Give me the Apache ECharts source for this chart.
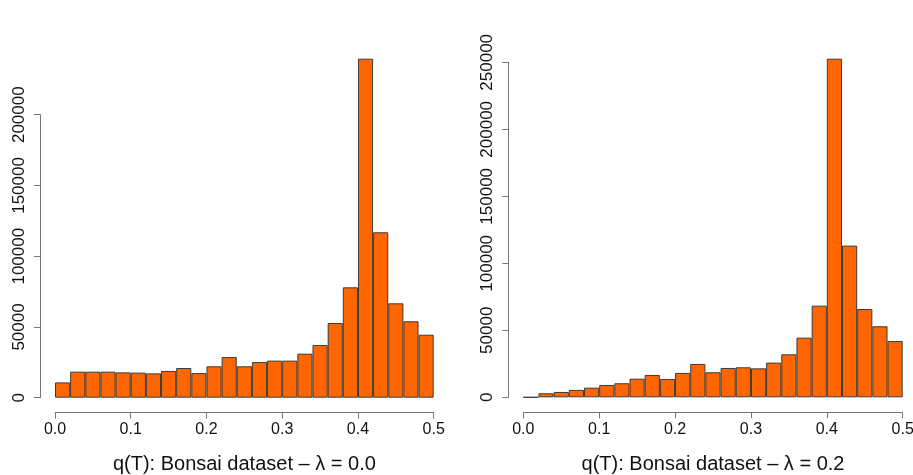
<!DOCTYPE html>
<html>
<head>
<meta charset="utf-8">
<script src="https://cdn.jsdelivr.net/npm/echarts@6/dist/echarts.min.js"></script>
<style>html,body{margin:0;padding:0;background:#fff}#c{width:913px;height:475px}</style>
</head>
<body>
<div id="c"></div>
<script>
// Histogram bins (width 0.02 from 0.0 to 0.5)
const bins = ["0.00","0.02","0.04","0.06","0.08","0.10","0.12","0.14","0.16","0.18","0.20","0.22","0.24","0.26","0.28","0.30","0.32","0.34","0.36","0.38","0.40","0.42","0.44","0.46","0.48"];
// Counts, lambda = 0.0
const countsL0 = [10800,18400,18400,18400,17900,17700,17200,18900,21000,17400,22200,28700,22200,25200,26200,26200,31100,37200,52800,78000,239600,116900,66700,54000,44500];
// Counts, lambda = 0.2
const countsL2 = [0,3000,4000,5500,7200,9200,10500,13900,16700,13700,18200,24900,18700,21900,22400,21600,25900,32100,44500,68400,252700,113200,65900,53000,42000];
const xTicks = [0.0,0.1,0.2,0.3,0.4,0.5];
const titleL0 = "q(T): Bonsai dataset \u2013 \u03bb = 0.0";
const titleL2 = "q(T): Bonsai dataset \u2013 \u03bb = 0.2";
const yMaxTickL0 = 200000;
const yMaxTickL2 = 250000;

const FONT = "'Liberation Sans', Arial, sans-serif";
const AX = '#777';
const TXT = '#111';

function hiddenAxis(extra){ return Object.assign({show:false}, extra); }

const chart = echarts.init(document.getElementById('c'), null, {renderer:'canvas'});

const grids = [
  {left:55, right:479.3, top:43.95, bottom:77.3, outerBoundsMode:'none', containLabel:false},   // 0 bars L0
  {left:55, right:479.3, top:114.7, bottom:77.3, outerBoundsMode:'none', containLabel:false},   // 1 y-axis L0
  {left:523.3, right:10.3, top:22.1, bottom:77.7, outerBoundsMode:'none', containLabel:false},  // 2 bars L2
  {left:523.3, right:10.3, top:62.3, bottom:77.7, outerBoundsMode:'none', containLabel:false}   // 3 y-axis L2
];

function valueXAxis(gi, name){
  return {
    type:'value', gridIndex:gi, min:xTicks[0], max:xTicks[xTicks.length-1], interval:0.1,
    position:'bottom', offset:15,
    axisLine:{show:true, onZero:false, lineStyle:{color:AX, width:1}},
    axisTick:{show:true, length:6, lineStyle:{color:AX}},
    axisLabel:{show:true, color:TXT, fontSize:16, fontFamily:FONT, margin:9,
      formatter:v=>v.toFixed(1)},
    splitLine:{show:false},
    name:name, nameLocation:'middle', nameGap:42,
    nameTextStyle:{color:TXT, fontSize:20, fontFamily:FONT}
  };
}
function visibleYAxis(gi, maxTick, off){
  return {
    type:'value', gridIndex:gi, min:0, max:maxTick, interval:50000,
    position:'left', offset:off,
    axisLine:{show:true, onZero:false, lineStyle:{color:AX, width:1}},
    axisTick:{show:true, length:6, lineStyle:{color:AX}},
    axisLabel:{show:true, rotate:90, color:TXT, fontSize:17, fontFamily:FONT, margin:12,
      formatter:v=>String(v)},
    splitLine:{show:false}
  };
}

const option = {
  backgroundColor:'#fff',
  animation:false,
  grid: grids,
  xAxis: [
    {type:'category', gridIndex:0, data:bins, show:false, boundaryGap:true},
    valueXAxis(0, titleL0),
    hiddenAxis({type:'value', gridIndex:1, min:0, max:1}),
    {type:'category', gridIndex:2, data:bins, show:false, boundaryGap:true},
    valueXAxis(2, titleL2),
    hiddenAxis({type:'value', gridIndex:3, min:0, max:1})
  ],
  yAxis: [
    hiddenAxis({type:'value', gridIndex:0, min:0, max:250000}),
    visibleYAxis(1, yMaxTickL0, 15),
    hiddenAxis({type:'value', gridIndex:2, min:0, max:280000}),
    visibleYAxis(3, yMaxTickL2, 15)
  ],
  series: [
    {type:'bar', xAxisIndex:0, yAxisIndex:0, data:countsL0, barCategoryGap:'0%',
      itemStyle:{color:'#ff6600', borderColor:'#3b3b3b', borderWidth:1}, silent:true},
    {type:'bar', xAxisIndex:3, yAxisIndex:2, data:countsL2, barCategoryGap:'0%',
      itemStyle:{color:'#ff6600', borderColor:'#3b3b3b', borderWidth:1}, silent:true}
  ]
};
chart.setOption(option);
</script>
</body>
</html>
